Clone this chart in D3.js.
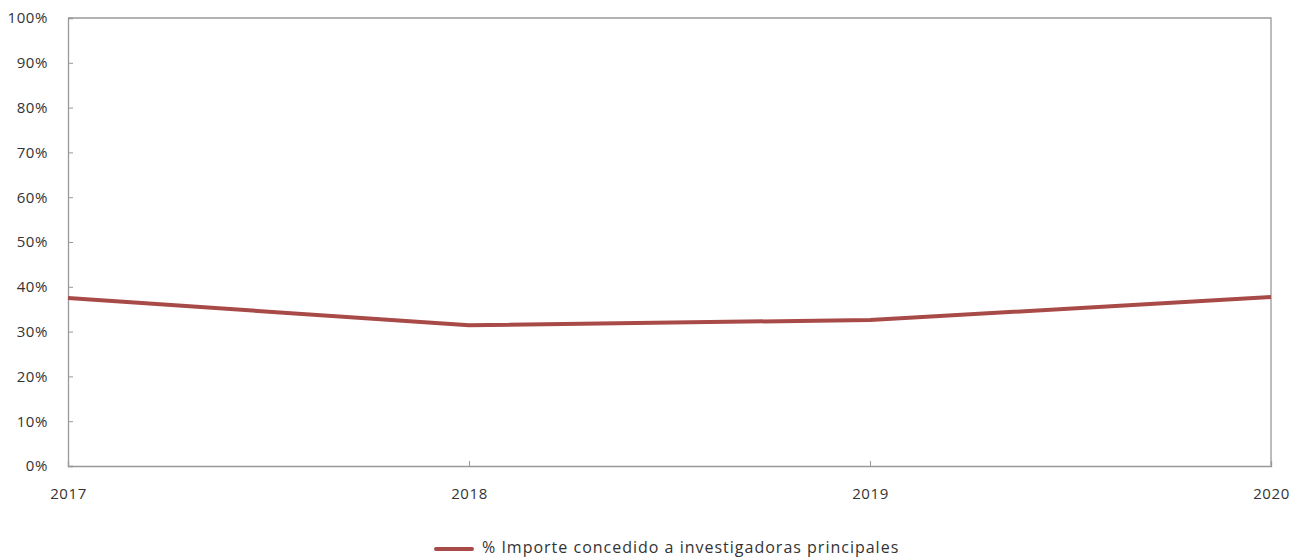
<!DOCTYPE html>
<html><head><meta charset="utf-8">
<script src="https://cdn.jsdelivr.net/npm/d3@7"></script>
<style>
html,body{margin:0;padding:0;background:#fff;}
svg{display:block;}
svg text{font-family:"Open Sans",sans-serif;}
</style></head>
<body><svg id="c" width="1292" height="557"></svg>
<script>
const years = ["2017","2018","2019","2020"];
const values = [37.5, 31.4, 32.6, 37.7];
const yTicks = [0,10,20,30,40,50,60,70,80,90,100];
const seriesName = "% Importe concedido a investigadoras principales";

const svg = d3.select("#c");
const m = {left:68, right:1271, top:18, bottom:466};
const x = d3.scalePoint().domain(years).range([m.left, m.right]);
const y = d3.scaleLinear().domain([0,100]).range([m.bottom, m.top]);
const axisColor = "#999";
const textColor = "#333";

// frame top/right
svg.append("path")
  .attr("d", `M${m.left},${m.top}H${m.right}V${m.bottom}`)
  .attr("fill","none").attr("stroke",axisColor).attr("stroke-width",1.3);

const ya = svg.append("g").attr("transform",`translate(${m.left},0)`)
  .call(d3.axisLeft(y).tickValues(yTicks).tickFormat(d=>d+"%").tickSize(-5).tickPadding(20));
ya.attr("font-family",null);
ya.select(".domain").attr("stroke",axisColor).attr("stroke-width",1.3);
ya.selectAll(".tick line").attr("stroke",axisColor);
ya.selectAll("text").attr("fill",textColor).attr("font-size",15).attr("letter-spacing",0.6);

const xa = svg.append("g").attr("transform",`translate(0,${m.bottom})`)
  .call(d3.axisBottom(x).tickSize(-5).tickPadding(22));
xa.attr("font-family",null);
xa.select(".domain").attr("stroke",axisColor).attr("stroke-width",1.3);
xa.selectAll(".tick line").attr("stroke",axisColor);
xa.selectAll("text").attr("fill",textColor).attr("font-size",15).attr("letter-spacing",0.6);

const line = d3.line().x((d,i)=>x(years[i])).y(d=>y(d));
svg.append("path").datum(values).attr("d",line)
  .attr("fill","none").attr("stroke","#a84a47").attr("stroke-width",4);

// legend
const lg = svg.append("g");
lg.append("line").attr("x1",436).attr("x2",472).attr("y1",549).attr("y2",549)
  .attr("stroke","#a84a47").attr("stroke-width",4).attr("stroke-linecap","round");
lg.append("text").attr("x",482).attr("y",553).text(seriesName)
  .attr("fill",textColor).attr("font-size",16).attr("letter-spacing",1);
</script></body></html>
